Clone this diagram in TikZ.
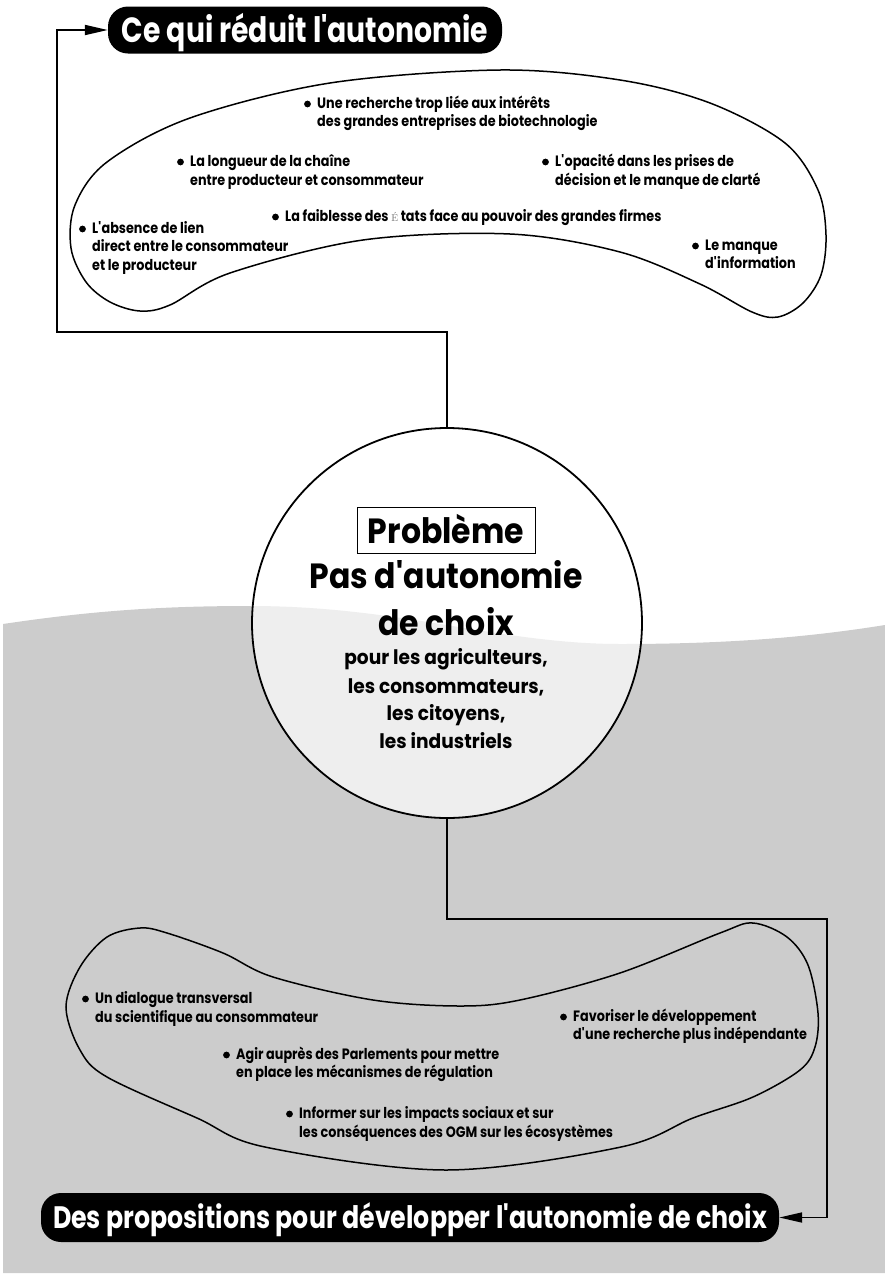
\documentclass[tikz,border=0pt]{standalone}
\usepackage{fontspec}
\usetikzlibrary{arrows.meta}
\newfontfamily\popbody{Poppins}[FakeStretch=0.852]
\newfontfamily\pophead{Poppins}[FakeStretch=0.9]
\newfontfamily\popcirc{Poppins}[FakeStretch=0.93]
\newfontfamily\poptitle{Poppins}
\newcommand\q{\textquotesingle}
\newcommand\lightE{{\rmfamily\mdseries\color{black!55}\fontsize{10}{10}\selectfont É}}
\definecolor{bggray}{HTML}{CCCCCC}
\begin{document}
\begin{tikzpicture}[x=1pt,y=-1pt,
  conn/.style={line width=1.8pt, draw=black},
  tip/.style={-{Triangle[length=23pt,width=10pt]}},
  blob/.style={line width=1.5pt, draw=black},
  body/.style={font=\popbody\bfseries\fontsize{15}{18}\selectfont, anchor=base west, inner sep=0pt},
  circsub/.style={font=\popcirc\bfseries\fontsize{20}{24}\selectfont, anchor=base, inner sep=0pt},
  circhead/.style={font=\pophead\bfseries\fontsize{35}{40}\selectfont, anchor=base, inner sep=0pt},
  titlebox/.style={fill=black, text=white, rounded corners=20pt, inner sep=0pt, text height=25pt, text depth=0pt, font=\poptitle\bfseries},
  bul/.style={fill=black}
]
\useasboundingbox (0,0) rectangle (885,1283);
% grey lower band
\fill[bggray] (3,624) .. controls (90,611) and (160,606) .. (250,606) .. controls (400,606) and (500,644) .. (620,644) .. controls (730,644) and (810,637) .. (885,625) -- (885,1273) -- (3,1273) -- cycle;

% top blob
\draw[blob, fill=white] plot[smooth cycle, tension=0.55] coordinates {
 (140,311) (110,302) (86,282) (71,248) (75,205) (107,162) (190,118) (330,83) (500,70) (620,80) (710,103) (785,143) (818,190) (826,235) (821,275) (803,303) (778,317) (752,312) (700,284) (620,252) (510,234) (363,240) (230,273) (170,305)};

% bottom blob
\draw[blob] plot[smooth cycle, tension=0.55] coordinates {
 (140,928) (167,933) (223,953) (273,977) (373,1000) (460,1006) (520,1000) (620,973) (720,933) (753,923) (787,937) (808,965) (818,1013) (815,1047) (800,1070) (753,1097) (693,1118) (621,1147) (446,1170) (265,1147) (197,1118) (107,1077) (80,1050) (66,1007) (80,967) (107,937)};

% central circle
\node[circle, draw, line width=1.8pt, fill=white, fill opacity=0.67, minimum size=390pt, inner sep=0pt] (prob) at (447,623) {};

% titles
\node[titlebox, minimum width=394pt, minimum height=47pt] (top) at (305,30)
  {\resizebox{366pt}{\height}{\fontsize{35}{35}\selectfont Ce qui réduit l\q autonomie}};
\node[titlebox, minimum width=738pt, minimum height=49pt, text height=22pt] (bot) at (410,1217.5)
  {\resizebox{714pt}{\height}{\fontsize{31}{31}\selectfont Des propositions pour développer l\q autonomie de choix}};

% connectors
\coordinate (c1) at (57,332);
\coordinate (c2) at (827,919);
\draw[conn, tip] (prob.north) |- (c1) |- (top.west);
\draw[conn, tip] (prob.south) |- (c2) |- (bot.east);

% circle text
\node[draw, line width=1pt, minimum width=178pt, minimum height=46pt, inner sep=0pt, text height=25pt, text depth=0pt, font=\pophead\bfseries\fontsize{35}{40}\selectfont] (pb) at (446,530.5) {Problème};
\node[circhead] (h1) at (446,588) {Pas d\q autonomie};
\node[circhead] (h2) at (446,635) {de choix};
\node[circsub] (s1) at (446,664) {pour les agriculteurs,};
\node[circsub] (s2) at (446,693) {les consommateurs,};
\node[circsub] (s3) at (446,720) {les citoyens,};
\node[circsub] (s4) at (446,748) {les industriels};

% top items
\node[body] (t1a) at (317,108) {Une recherche trop liée aux intérêts};
\node[body] (t1b) at (317,126) {des grandes entreprises de biotechnologie};
\node[body] (t2a) at (190,166) {La longueur de la chaîne};
\node[body] (t2b) at (190,185) {entre producteur et consommateur};
\node[body] (t3a) at (555,166) {L\q opacité dans les prises de};
\node[body] (t3b) at (555,185) {décision et le manque de clarté};
\node[body] (t4)  at (285,221) {La faiblesse des \lightE\ tats face au pouvoir des grandes firmes};
\node[body] (t5a) at (92,233) {L\q absence de lien};
\node[body] (t5b) at (92,251.5) {direct entre le consommateur};
\node[body] (t5c) at (92,270) {et le producteur};
\node[body] (t6a) at (705,250) {Le manque};
\node[body] (t6b) at (705,268) {d\q information};

% bottom items
\node[body] (b1a) at (95,1003) {Un dialogue transversal};
\node[body] (b1b) at (95,1022) {du scientifique au consommateur};
\node[body] (b2a) at (236,1059) {Agir auprès des Parlements pour mettre};
\node[body] (b2b) at (236,1077) {en place les mécanismes de régulation};
\node[body] (b3a) at (299,1118) {Informer sur les impacts sociaux et sur};
\node[body] (b3b) at (299,1137) {les conséquences des OGM sur les écosystèmes};
\node[body] (b4a) at (573,1021) {Favoriser le développement};
\node[body] (b4b) at (573,1039) {d\q une recherche plus indépendante};

% bullets
\foreach \n in {t1a,t2a,t3a,t4,t5a,t6a,b1a,b2a,b3a,b4a}
  \fill[bul] ([shift={(-9.5,-4)}]\n.base west) circle[radius=3.4pt];
\end{tikzpicture}
\end{document}
